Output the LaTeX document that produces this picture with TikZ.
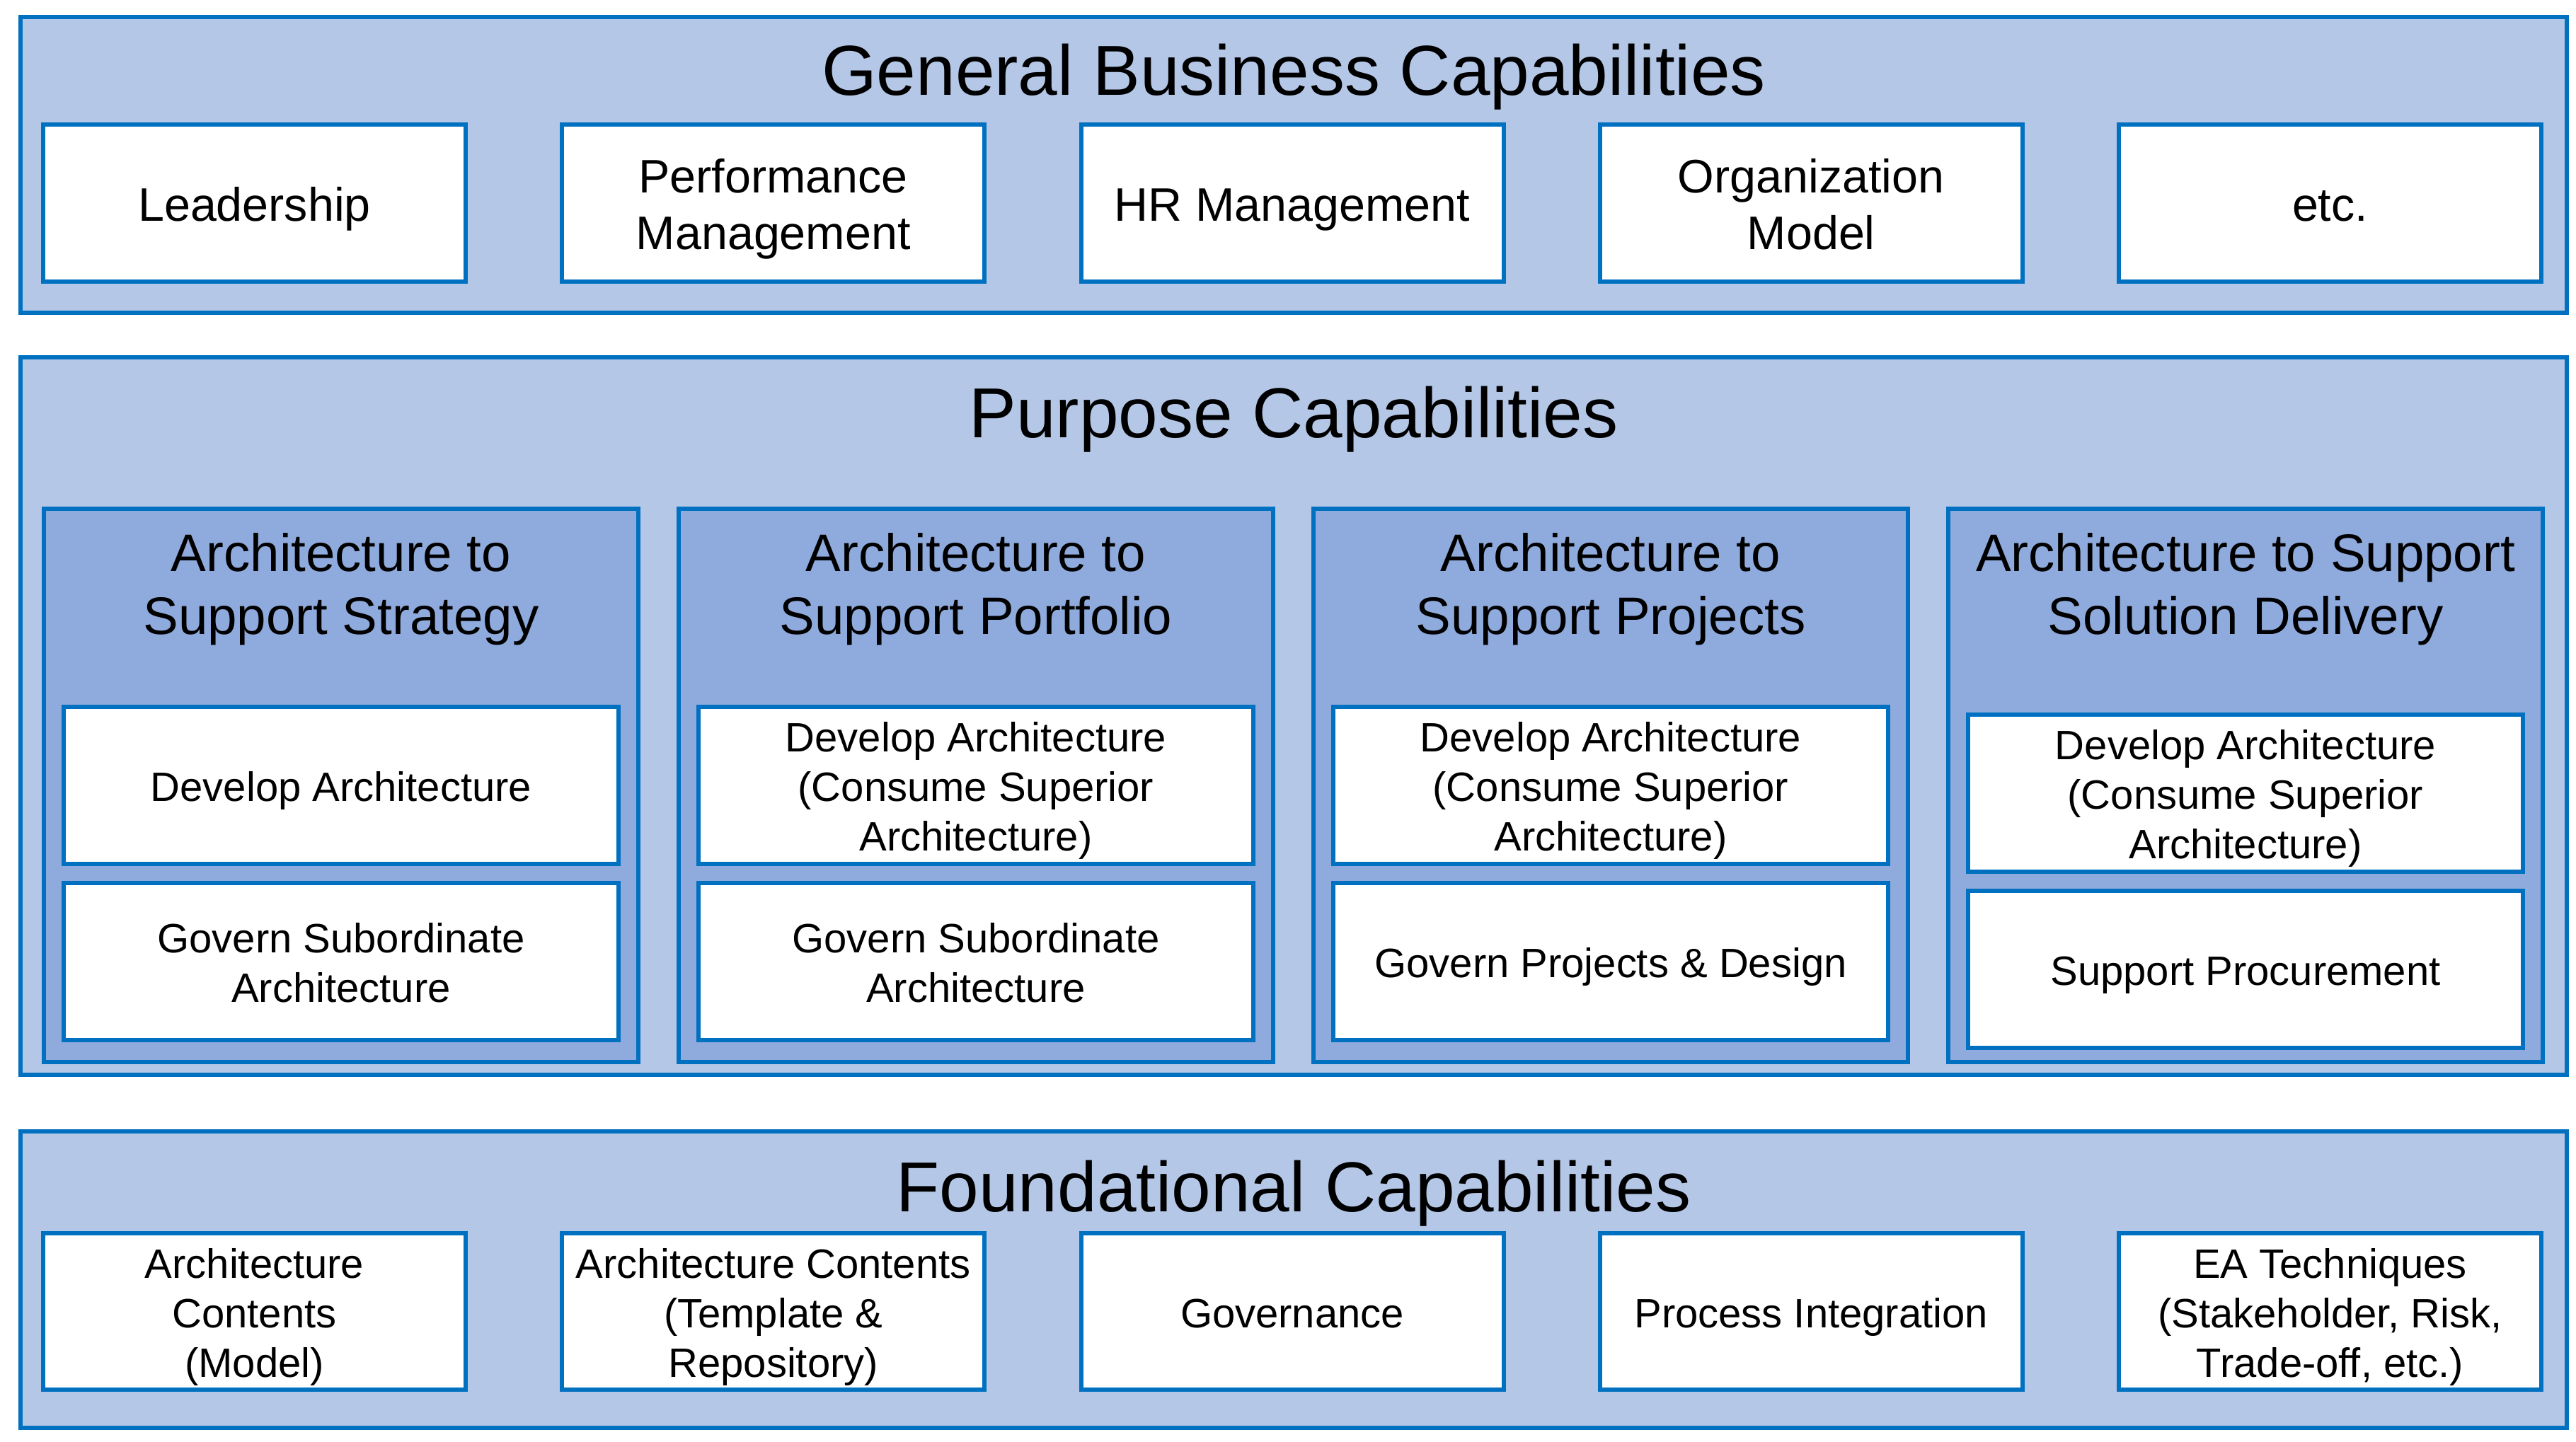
\documentclass[tikz,border=0pt]{standalone}
\usepackage{fontspec}
\setmainfont{Liberation Sans}
\definecolor{bandfill}{HTML}{B4C7E7}
\definecolor{panelfill}{HTML}{8FAADC}
\definecolor{edgeblue}{HTML}{0070C0}
% line strut: keeps every text line at the same height and depth
\newcommand\lnstrut{\rule[-0.21em]{0pt}{1.2em}}
\tikzset{
  frame/.style={rectangle, draw=edgeblue, line width=0.06cm, inner sep=0pt},
  band/.style={frame, fill=bandfill, minimum width=35.98cm},
  panel/.style={frame, fill=panelfill, minimum width=8.40cm, minimum height=7.82cm},
  bandtitle/.style={anchor=base, inner sep=0pt, font=\fontsize{28.45}{34.2}\selectfont},
  paneltitle/.style={align=center, inner sep=0pt, font=\fontsize{21.2}{25.5}\selectfont},
  capbox/.style={frame, fill=white, align=center, minimum width=5.97cm, minimum height=2.22cm,
    font=\fontsize{18.9}{22.8}\selectfont},
  basebox/.style={frame, fill=white, align=center, minimum width=5.97cm, minimum height=2.21cm,
    font=\fontsize{16.5}{19.9}\selectfont},
  subbox/.style={frame, fill=white, align=center, minimum width=7.84cm, minimum height=2.22cm,
    font=\fontsize{16.5}{19.9}\selectfont},
}
\begin{document}
\begin{tikzpicture}
\useasboundingbox (0,0) rectangle (36.40,-20.38);

% ---- General business capabilities ----
\node[band, minimum height=4.18cm] (gen) at (18.28,-2.33) {};
\node[bandtitle] (gentitle) at (18.28,-1.35) {General Business Capabilities};
\node[capbox] (lead) at (3.595,-2.87) {\lnstrut Leadership};
\node[capbox] (perf) at (10.9275,-2.87) {\lnstrut Performance\\\lnstrut Management};
\node[capbox] (hrm)  at (18.26,-2.87) {\lnstrut HR Management};
\node[capbox] (org)  at (25.5925,-2.87) {\lnstrut Organization\\\lnstrut Model};
\node[capbox] (etc)  at (32.925,-2.87) {\lnstrut etc.};

% ---- Purpose capabilities ----
\node[band, minimum height=10.14cm] (pur) at (18.28,-10.12) {};
\node[bandtitle] (purtitle) at (18.28,-6.18) {Purpose Capabilities};

\node[panel] (strat) at (4.82,-11.10) {};
\node[paneltitle] at (4.82,-8.23) {\lnstrut Architecture to\\\lnstrut Support Strategy};
\node[subbox] (strat1) at (4.82,-11.10) {\lnstrut Develop Architecture};
\node[subbox] (strat2) at (4.82,-13.59) {\lnstrut Govern Subordinate\\\lnstrut Architecture};

\node[panel] (port) at (13.79,-11.10) {};
\node[paneltitle] at (13.79,-8.23) {\lnstrut Architecture to\\\lnstrut Support Portfolio};
\node[subbox] (port1) at (13.79,-11.10) {\lnstrut Develop Architecture\\\lnstrut (Consume Superior\\\lnstrut Architecture)};
\node[subbox] (port2) at (13.79,-13.59) {\lnstrut Govern Subordinate\\\lnstrut Architecture};

\node[panel] (proj) at (22.76,-11.10) {};
\node[paneltitle] at (22.76,-8.23) {\lnstrut Architecture to\\\lnstrut Support Projects};
\node[subbox] (proj1) at (22.76,-11.10) {\lnstrut Develop Architecture\\\lnstrut (Consume Superior\\\lnstrut Architecture)};
\node[subbox] (proj2) at (22.76,-13.59) {\lnstrut Govern Projects \& Design};

\node[panel] (deliv) at (31.73,-11.10) {};
\node[paneltitle] at (31.73,-8.23) {\lnstrut Architecture to Support\\\lnstrut Solution Delivery};
\node[subbox] (deliv1) at (31.73,-11.21) {\lnstrut Develop Architecture\\\lnstrut (Consume Superior\\\lnstrut Architecture)};
\node[subbox] (deliv2) at (31.73,-13.70) {\lnstrut Support Procurement};

% ---- Foundational capabilities ----
\node[band, minimum height=4.19cm] (fnd) at (18.28,-18.085) {};
\node[bandtitle] (fndtitle) at (18.28,-17.12) {Foundational Capabilities};
\node[basebox] (model) at (3.595,-18.535) {\lnstrut Architecture\\\lnstrut Contents\\\lnstrut (Model)};
\node[basebox] (repo)  at (10.9275,-18.535) {\lnstrut Architecture Contents\\\lnstrut (Template \&\\\lnstrut Repository)};
\node[basebox] (gov)   at (18.26,-18.535) {\lnstrut Governance};
\node[basebox] (proc)  at (25.5925,-18.535) {\lnstrut Process Integration};
\node[basebox] (tech)  at (32.925,-18.535) {\lnstrut EA Techniques\\\lnstrut (Stakeholder, Risk,\\\lnstrut Trade-off, etc.)};
\end{tikzpicture}
\end{document}
